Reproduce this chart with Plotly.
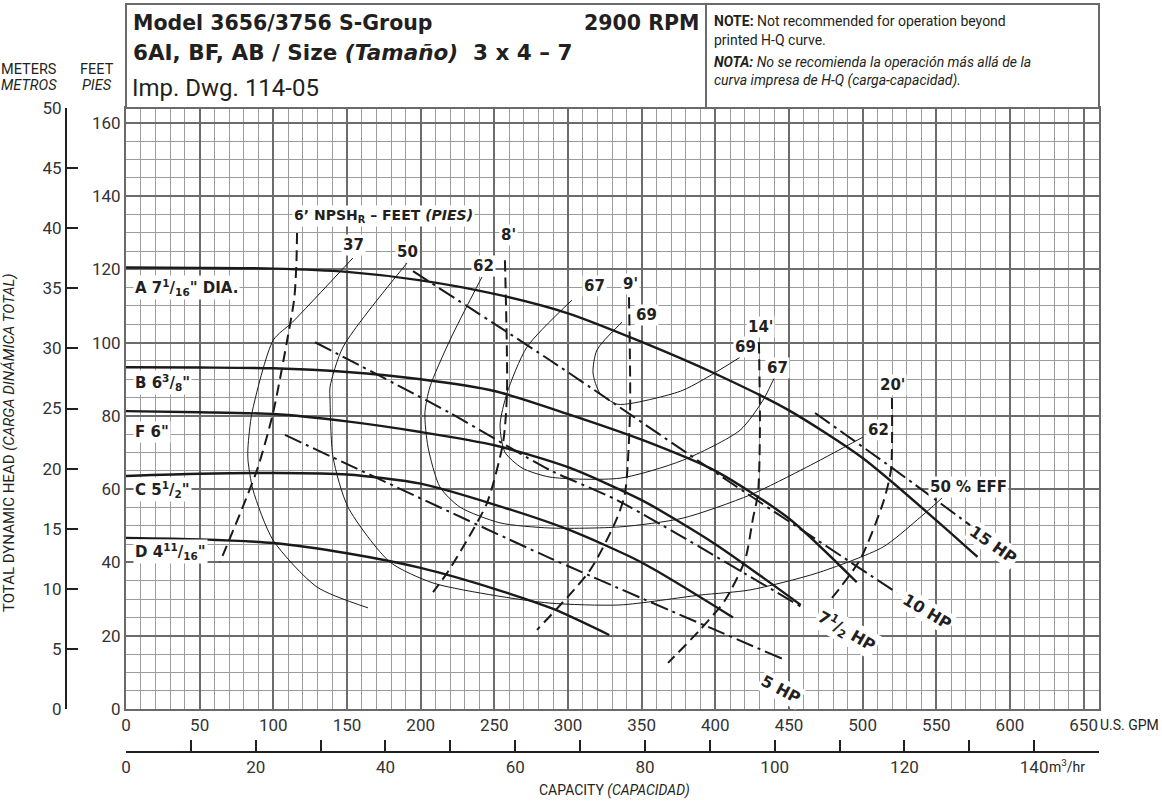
import plotly.graph_objects as go

W, H = 1162, 803
FONT = "Roboto"
BOLD = "DejaVu Sans"
INK = "#231f20"

# ---------------- data ----------------
GPM_MAX = 150 / 0.22712      # right edge = 150 m3/hr
FT_MAX = 50 * 3.28084        # top edge = 50 m

gpm_ticks = [0, 50, 100, 150, 200, 250, 300, 350, 400, 450, 500, 550, 600, 650]
m3h_ticks = [0, 10, 20, 30, 40, 50, 60, 70, 80, 90, 100, 110, 120, 130, 140]
ft_ticks = [0, 20, 40, 60, 80, 100, 120, 140, 160]
m_ticks = [0, 5, 10, 15, 20, 25, 30, 35, 40, 45, 50]

# head-capacity curves (GPM, ft)
a_q = [0, 50, 100, 150, 200, 250, 300, 350, 400, 450, 500, 550, 578]
a_h = [120.5, 120.4, 120.2, 119.3, 117, 113.3, 108, 100.2, 91.5, 81.5, 68.5, 51.5, 41.5]
b_q = [0, 50, 100, 150, 200, 250, 300, 350, 400, 450, 496]
b_h = [93.3, 93.2, 93, 92, 90, 86.8, 80.5, 73.5, 65, 52, 34.6]
f_q = [0, 50, 100, 150, 200, 250, 300, 350, 400, 458]
f_h = [81.3, 81, 80.5, 78.5, 75.6, 72, 66, 57, 45, 28.4]
c_q = [0, 50, 100, 150, 200, 250, 300, 350, 412]
c_h = [63.6, 64.2, 64.4, 64, 61.5, 55.8, 49, 40, 25]
d_q = [0, 50, 100, 150, 200, 250, 290, 328]
d_h = [46.7, 46.3, 45.3, 42.5, 38.5, 32.8, 27.3, 20.2]

# efficiency curves
e37_q = [154, 113, 100, 85.5, 82.8, 82.8, 86.2, 99.8, 129.6, 164.3]
e37_h = [123.1, 105.6, 100.7, 80.8, 71.5, 67.9, 59.8, 46.1, 33.3, 27.6]
e50_q = [190.7, 147.3, 138.5, 138.5, 140.5, 150.7, 179.2, 208.4, 250, 287.8, 335.3, 389.6, 423.5, 469, 513.8, 537, 553.9]
e50_h = [121.7, 98.8, 87.9, 84.3, 68.8, 55.1, 40.1, 34.4, 31, 28.9, 28.4, 31.1, 32.5, 37.1, 44.2, 51.6, 57.6]
e62_q = [241.6, 219.9, 206.3, 202.9, 205, 213.1, 226.7, 253.9, 287.8, 335.3, 378, 423.5, 462, 500.2]
e62_h = [117.9, 100.7, 87.9, 80.8, 71.5, 60.6, 55.1, 50.8, 49.4, 49.7, 52.1, 58.4, 66, 74.2]
e67_q = [302.7, 272.2, 258.6, 253.9, 257.2, 268.8, 287.8, 335.3, 378, 416.8, 432.4, 441.9]
e67_h = [111.6, 98.8, 86.2, 77.5, 70.1, 65.8, 63.3, 63, 67.9, 76.1, 84.3, 92]
e69_q = [336.7, 319.7, 317, 321.7, 333.3, 344.1, 378, 416.8]
e69_h = [105.6, 98, 91.7, 86.2, 83.2, 83.5, 87, 96]

# NPSHr curves
n6_q = [116.1, 115.6, 114.2, 110, 99.8, 88.9, 63.8]
n6_h = [129.9, 121, 112, 102, 80.8, 65.2, 40.1]
n8_q = [257.2, 258.6, 255.9, 245, 231.5, 217.9, 208.4]
n8_h = [122.5, 86.2, 72.6, 56.2, 46.1, 37.1, 31.9]
n9_q = [341.4, 342.1, 338.7, 333.3, 315, 279]
n9_h = [112.4, 80.8, 58.9, 52.1, 37.9, 21.6]
n14_q = [429.6, 430.3, 429, 425.6, 420.2, 406.6, 389.6, 367.9]
n14_h = [100.1, 76.9, 58.9, 52.1, 40.7, 29.7, 21.6, 12.6]
n20_q = [519.9, 519.2, 513.8, 498.2, 479.2]
n20_h = [84.9, 65.2, 56.2, 40.7, 30.3]

# power lines
hp15_q = [467.7, 520, 572.9]
hp15_h = [80.8, 65.8, 50.2]
hp10_q = [194.8, 287.8, 410, 523.3]
hp10_h = [119.5, 95.2, 61.9, 31.7]
hp75_q = [128.3, 219.9, 287.8, 333.3, 459.5]
hp75_h = [100.1, 80.8, 65.2, 57, 27.6]
hp5_q = [107.9, 287.8, 447.3]
hp5_h = [74.8, 41.2, 13.4]

# ---------------- helpers ----------------
def px(x):
    return x / W

def py(y):
    return 1 - y / H

fig = go.Figure()

def add_line(q, h, width, dash="solid", color="#1a1a1a"):
    fig.add_trace(go.Scatter(x=q, y=h, mode="lines", hoverinfo="skip", showlegend=False,
                             line=dict(color=color, width=width, dash=dash, shape="spline", smoothing=0.7)))

for q, h in [(e37_q, e37_h), (e50_q, e50_h), (e62_q, e62_h), (e67_q, e67_h), (e69_q, e69_h)]:
    add_line(q, h, 1.0)
for q, h in [(n6_q, n6_h), (n8_q, n8_h), (n9_q, n9_h), (n14_q, n14_h), (n20_q, n20_h)]:
    add_line(q, h, 2.0, dash="11px,6px")
for q, h in [(hp15_q, hp15_h), (hp10_q, hp10_h), (hp75_q, hp75_h), (hp5_q, hp5_h)]:
    add_line(q, h, 2.0, dash="18px,5px,3px,5px")
for q, h in [(a_q, a_h), (b_q, b_h), (f_q, f_h), (c_q, c_h), (d_q, d_h)]:
    add_line(q, h, 2.4)

# invisible traces for the secondary axes
fig.add_trace(go.Scatter(x=[0], y=[0], yaxis="y2", mode="markers", marker=dict(opacity=0), hoverinfo="skip", showlegend=False))
fig.add_trace(go.Scatter(x=[0], y=[0], xaxis="x2", mode="markers", marker=dict(opacity=0), hoverinfo="skip", showlegend=False))

XD = [px(126), px(1099)]
YD = [py(709), py(108)]
TICKF = dict(family=FONT, size=17, color="#333")

fig.update_layout(
    width=W, height=H, margin=dict(l=0, r=0, t=0, b=0), template="none",
    paper_bgcolor="white", plot_bgcolor="white", showlegend=False,
    font=dict(family=FONT, color=INK),
    xaxis=dict(domain=XD, range=[0, GPM_MAX], tickvals=gpm_ticks, showgrid=True,
               gridcolor="#6c6c6c", gridwidth=2, zeroline=False, showline=True, mirror=True,
               linecolor="#6a6a6a", linewidth=2, ticks="", tickfont=TICKF,
               minor=dict(dtick=10, tick0=0, showgrid=True, gridcolor="#9c9c9c", gridwidth=1),
               anchor="y", fixedrange=True),
    yaxis=dict(domain=YD, range=[0, FT_MAX], tickvals=ft_ticks, showgrid=True,
               gridcolor="#6c6c6c", gridwidth=2, zeroline=False, showline=True, mirror=True,
               linecolor="#6a6a6a", linewidth=2, ticks="", tickfont=TICKF,
               minor=dict(dtick=5, tick0=0, showgrid=True, gridcolor="#9c9c9c", gridwidth=1),
               anchor="x", fixedrange=True),
    yaxis2=dict(domain=YD, range=[0, 50], tickvals=m_ticks, overlaying="y", anchor="free",
                position=px(66), side="left", showgrid=False, zeroline=False, showline=True,
                linecolor="#231f20", linewidth=2, ticks="inside", ticklen=11, tickwidth=2,
                tickcolor="#231f20", tickfont=TICKF, fixedrange=True),
    xaxis2=dict(domain=XD, range=[0, 150], tickvals=m3h_ticks,
                ticktext=[str(v) if v % 20 == 0 else "" for v in m3h_ticks],
                overlaying="x", anchor="free", position=py(752), side="bottom", showgrid=False,
                zeroline=False, showline=True, linecolor="#231f20", linewidth=2, ticks="inside",
                ticklen=11, tickwidth=2, tickcolor="#231f20", tickfont=TICKF, fixedrange=True),
)

shapes = [
    dict(type="rect", xref="paper", yref="paper", x0=px(126), x1=px(1099), y0=py(108), y1=py(4),
         line=dict(color="#6a6a6a", width=2), fillcolor="white", layer="above"),
    dict(type="line", xref="paper", yref="paper", x0=px(706), x1=px(706), y0=py(108), y1=py(4),
         line=dict(color="#6a6a6a", width=2)),
]
fig.update_layout(shapes=shapes)

ann = []

def txt(x, y, s, size, xanchor="left", yanchor="middle", angle=0, bg=None, ref="paper", family=FONT):
    d = dict(x=x, y=y, xref=ref if ref == "paper" else "x", yref=ref if ref == "paper" else "y",
             text=s, showarrow=False, xanchor=xanchor, yanchor=yanchor, textangle=angle,
             font=dict(family=family, size=size, color=INK))
    if bg:
        d.update(bgcolor=bg, borderpad=1)
    ann.append(d)

# header
txt(px(131), py(23), "<b>Model 3656/3756 S-Group</b>", 20.5, family=BOLD)
txt(px(701), py(23), "<b>2900 RPM</b>", 20.5, xanchor="right", family=BOLD)
txt(px(131), py(52), "<b>6AI, BF, AB / Size <i>(Tamaño)</i>\u00a0\u00a03 x 4 – 7</b>", 21.5, family=BOLD)
txt(px(130), py(88), "Imp. Dwg. 114-05", 24)
txt(px(712), py(21), "<b>NOTE:</b> Not recommended for operation beyond", 14)
txt(px(712), py(40), "printed H-Q curve.", 14)
txt(px(712), py(62), "<b><i>NOTA:</i></b><i> No se recomienda la operación más allá de la</i>", 14)
txt(px(712), py(81), "<i>curva impresa de H-Q (carga-capacidad).</i>", 14)

# axis captions
txt(px(29), py(69), "METERS", 14.5, xanchor="center")
txt(px(29), py(86), "<i>METROS</i>", 14.5, xanchor="center")
txt(px(97), py(69), "FEET", 14.5, xanchor="center")
txt(px(97), py(86), "<i>PIES</i>", 14.5, xanchor="center")
txt(px(9), py(443), "TOTAL DYNAMIC HEAD <i>(CARGA DINÁMICA TOTAL)</i>", 15, xanchor="center", angle=-90)
txt(px(1098), py(725), "U.S. GPM", 14)
txt(px(1047), py(766), "m<sup>3</sup>/hr", 14)
txt(px(614), py(790), "CAPACITY <i>(CAPACIDAD)</i>", 14, xanchor="center")

# diameter labels
for s, yv in [("A 7<sup>1</sup>/<sub>16</sub>\" DIA.", 287), ("B 6<sup>3</sup>/<sub>8</sub>\"", 382),
              ("F 6\"", 432), ("C 5<sup>1</sup>/<sub>2</sub>\"", 489), ("D 4<sup>11</sup>/<sub>16</sub>\"", 551)]:
    txt(px(133), py(yv), "<b>" + s + "</b>", 15, bg="white", family=BOLD)

# efficiency / NPSH labels (pixel positions converted to data units)
def dq(xpix):
    return (xpix - 126) / (973 / GPM_MAX)

def dh(ypix):
    return (709 - ypix) / (601 / FT_MAX)

for s, xx, yy in [("37", 353, 245), ("50", 407, 252), ("62", 483, 266), ("67", 594, 286),
                  ("69", 646, 315), ("69", 745, 347), ("67", 777, 368), ("62", 878, 430),
                  ("50 % EFF", 968, 487), ("8'", 508, 235), ("9'", 630, 284), ("14'", 760, 327),
                  ("20'", 892, 385)]:
    txt(dq(xx), dh(yy), "<b>" + s + "</b>", 15, xanchor="center", bg="white", ref="data", family=BOLD)
txt(dq(383), dh(216), "<b>6’ NPSH<sub>R</sub> – FEET <i>(PIES)</i></b>", 14, xanchor="center", bg="white", ref="data", family=BOLD)

for s, xx, yy, ang in [("15 HP", 993, 544, 35), ("10 HP", 927, 611, 31), ("7<sup>1</sup>/<sub>2</sub> HP", 847, 631, 30),
                       ("5 HP", 781, 689, 28)]:
    txt(dq(xx), dh(yy), "<b>" + s + "</b>", 16, xanchor="center", angle=ang, bg="white", ref="data", family=BOLD)

fig.update_layout(annotations=ann)

fig.write_html("out.html", config={"displayModeBar": False},
               post_script="document.body.style.margin='0';document.body.style.overflow='hidden';")
